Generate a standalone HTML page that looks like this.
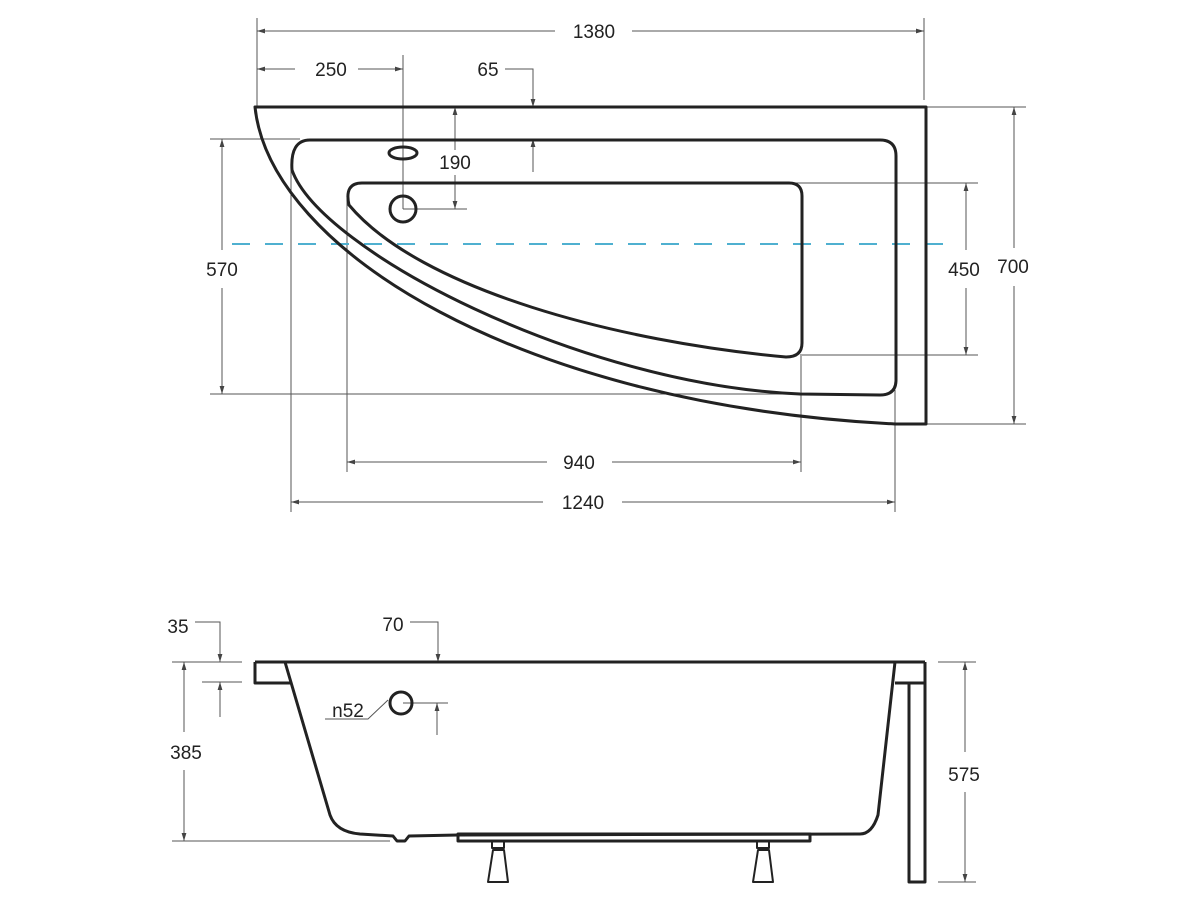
<!DOCTYPE html>
<html><head><meta charset="utf-8"><style>
html,body{margin:0;padding:0;background:#fff;}
svg{display:block;}
text{font-family:"Liberation Sans",sans-serif;font-size:19px;fill:#222;text-anchor:middle;}
.d{stroke:#555;stroke-width:1;fill:none;}
.s{stroke:#222;stroke-width:3;fill:none;stroke-linejoin:round;}
</style></head><body>
<svg width="1200" height="900" viewBox="0 0 1200 900" xmlns="http://www.w3.org/2000/svg">
<defs>
<marker id="a" viewBox="0 0 10 10" refX="10" refY="5" markerWidth="8" markerHeight="8" orient="auto-start-reverse" markerUnits="userSpaceOnUse"><path d="M0,2 L10,5 L0,8 z" fill="#444"/></marker>
</defs>
<rect width="1200" height="900" fill="#fff"/>
<g class="d">
<line x1="257" y1="18" x2="257" y2="107"/><line x1="924" y1="18" x2="924" y2="100"/>
<line x1="257" y1="31" x2="555" y2="31" marker-start="url(#a)"/><line x1="632" y1="31" x2="924" y2="31" marker-end="url(#a)"/>
<line x1="257" y1="69" x2="295" y2="69" marker-start="url(#a)"/><line x1="358" y1="69" x2="403" y2="69" marker-end="url(#a)"/>
<line x1="403" y1="55" x2="403" y2="209"/>
<polyline points="505,69 533,69 533,107" marker-end="url(#a)"/>
<line x1="533" y1="172" x2="533" y2="139" marker-end="url(#a)"/>
<line x1="455" y1="150" x2="455" y2="107" marker-end="url(#a)"/>
<line x1="455" y1="175" x2="455" y2="209" marker-end="url(#a)"/>
<line x1="403" y1="209" x2="467" y2="209"/>
<line x1="210" y1="139" x2="300" y2="139"/><line x1="210" y1="394" x2="800" y2="394"/>
<line x1="222" y1="139" x2="222" y2="250" marker-start="url(#a)"/><line x1="222" y1="288" x2="222" y2="394" marker-end="url(#a)"/>
<line x1="790" y1="183" x2="978" y2="183"/><line x1="800" y1="355" x2="978" y2="355"/>
<line x1="966" y1="183" x2="966" y2="250" marker-start="url(#a)"/><line x1="966" y1="288" x2="966" y2="355" marker-end="url(#a)"/>
<line x1="926" y1="107" x2="1026" y2="107"/><line x1="926" y1="424" x2="1026" y2="424"/>
<line x1="1014" y1="107" x2="1014" y2="248" marker-start="url(#a)"/><line x1="1014" y1="286" x2="1014" y2="424" marker-end="url(#a)"/>
<line x1="347" y1="195" x2="347" y2="472"/><line x1="801" y1="356" x2="801" y2="472"/>
<line x1="347" y1="462" x2="547" y2="462" marker-start="url(#a)"/><line x1="612" y1="462" x2="801" y2="462" marker-end="url(#a)"/>
<line x1="291" y1="160" x2="291" y2="512"/><line x1="895" y1="390" x2="895" y2="512"/>
<line x1="291" y1="502" x2="543" y2="502" marker-start="url(#a)"/><line x1="622" y1="502" x2="895" y2="502" marker-end="url(#a)"/>
</g>
<line x1="232" y1="244" x2="950" y2="244" stroke="#4fb0d0" stroke-width="2" stroke-dasharray="18,15"/>
<path class="s" d="M255,107 L926,107 L926,424 L895,424 C 520,405 270,250 255,107 Z"/>
<path class="s" d="M310,140 L880,140 Q896,140 896,156 L896,380 Q896,395 880,395 L800,394 C 580,385 320,250 292,170 Q290,140 310,140 Z"/>
<path class="s" d="M362,183 L789,183 Q802,183 802,196 L802,343 Q802,357 786,357 C 620,342 420,290 349,205 Q344,183 362,183 Z"/>
<ellipse cx="403" cy="153" rx="14" ry="6" class="s" stroke-width="2.5"/>
<circle cx="403" cy="209" r="13" class="s" stroke-width="2.5"/>
<text x="594" y="38">1380</text><text x="331" y="76">250</text><text x="488" y="76">65</text>
<text x="455" y="169">190</text><text x="222" y="276">570</text><text x="964" y="276">450</text>
<text x="1013" y="273">700</text><text x="579" y="469">940</text><text x="583" y="509">1240</text>
<g class="d">
<polyline points="195,622 220,622 220,662" marker-end="url(#a)"/>
<line x1="172" y1="662" x2="242" y2="662"/><line x1="202" y1="682" x2="242" y2="682"/>
<line x1="220" y1="717" x2="220" y2="682" marker-end="url(#a)"/>
<line x1="184" y1="662" x2="184" y2="732" marker-start="url(#a)"/><line x1="184" y1="770" x2="184" y2="841" marker-end="url(#a)"/>
<line x1="172" y1="841" x2="390" y2="841"/>
<polyline points="410,622 438,622 438,662" marker-end="url(#a)"/>
<polyline points="325,719 368,719 388,700"/>
<line x1="403" y1="703" x2="448" y2="703"/>
<line x1="437" y1="735" x2="437" y2="703" marker-end="url(#a)"/>
<line x1="938" y1="662" x2="976" y2="662"/><line x1="938" y1="882" x2="976" y2="882"/>
<line x1="965" y1="662" x2="965" y2="752" marker-start="url(#a)"/><line x1="965" y1="792" x2="965" y2="882" marker-end="url(#a)"/>
</g>
<g class="s" stroke-width="2.5">
<line x1="255" y1="662" x2="925" y2="662"/>
<polyline points="255,662 255,683 290,683"/>
<path d="M285,662 L330,815 Q336,832 360,834 L393,836 L397,841 L405,841 L409,836 L458,835 L860,834 Q872,834 878,815 L895,662"/>
<polyline points="895,683 925,683 925,662"/>
<rect x="909" y="683" width="16" height="199"/>
<rect x="458" y="834" width="352" height="7"/>
<rect x="492" y="841" width="12" height="7" stroke-width="2"/>
<rect x="757" y="841" width="12" height="7" stroke-width="2"/>
<path d="M493,850 L504,850 L508,882 L488,882 Z" stroke-width="2"/>
<path d="M758,850 L769,850 L773,882 L753,882 Z" stroke-width="2"/>
</g>
<circle cx="401" cy="703" r="11" class="s" stroke-width="2.5"/>
<text x="178" y="633">35</text><text x="393" y="631">70</text>
<text x="348" y="717">n52</text><text x="186" y="759">385</text><text x="964" y="781">575</text>
</svg>
</body></html>
